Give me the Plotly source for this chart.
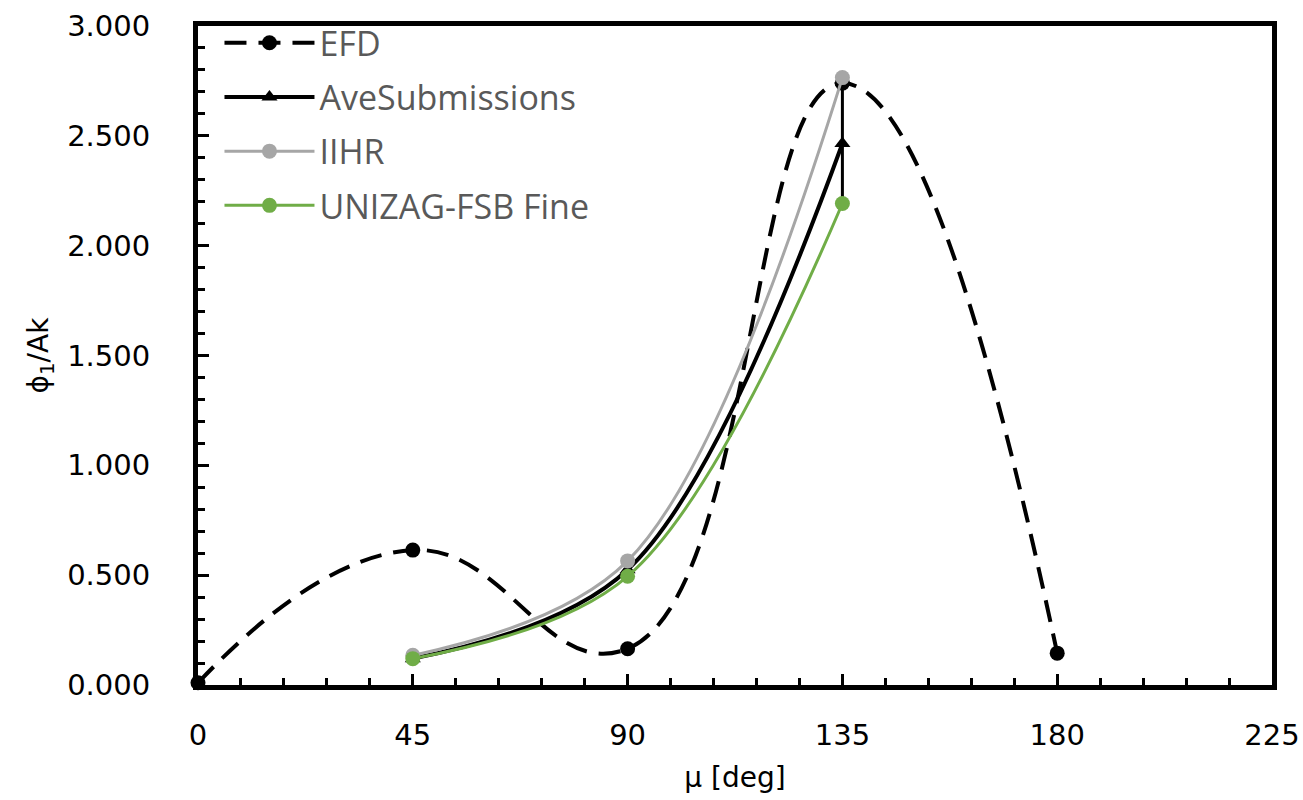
import plotly.graph_objects as go

# ---- data ----
mu_efd = [0, 45, 90, 135, 180]
efd = [0.010, 0.614, 0.165, 2.740, 0.145]

mu_cfd = [45, 90, 135]
ave = [0.120, 0.525, 2.465]
ave_err_plus = [0.0, 0.0, 0.300]
ave_err_minus = [0.0, 0.0, 0.275]
iihr = [0.135, 0.565, 2.765]
unizag = [0.120, 0.495, 2.192]

x_ticks = [0, 45, 90, 135, 180, 225]
y_ticks = [0, 0.5, 1.0, 1.5, 2.0, 2.5, 3.0]

fig = go.Figure()

fig.add_trace(go.Scatter(
    x=mu_efd, y=efd, name="EFD", mode="lines+markers",
    line=dict(color="black", width=4, dash="22px,12px", shape="spline", smoothing=1.3),
    marker=dict(symbol="circle", size=15, color="black"),
    cliponaxis=False, legendgroup="a"))
fig.add_trace(go.Scatter(
    x=mu_cfd, y=ave, name="AveSubmissions", mode="lines+markers",
    line=dict(color="black", width=4, shape="spline", smoothing=1),
    marker=dict(symbol="triangle-up", size=14, color="black"),
    error_y=dict(type="data", array=ave_err_plus, arrayminus=ave_err_minus,
                 symmetric=False, color="black", thickness=3, width=0),
    legendgroup="b"))
fig.add_trace(go.Scatter(
    x=mu_cfd, y=iihr, name="IIHR", mode="lines+markers",
    line=dict(color="#a6a6a6", width=3, shape="spline", smoothing=1),
    marker=dict(symbol="circle", size=15, color="#a6a6a6"),
    legendgroup="c"))
fig.add_trace(go.Scatter(
    x=mu_cfd, y=unizag, name="UNIZAG-FSB Fine", mode="lines+markers",
    line=dict(color="#70ad47", width=3, shape="spline", smoothing=1),
    marker=dict(symbol="circle", size=15, color="#70ad47"),
    legendgroup="d"))

fig.update_layout(
    width=1303, height=800,
    margin=dict(l=198, r=31, t=26, b=115),
    paper_bgcolor="white", plot_bgcolor="white",
    showlegend=True,
    legend=dict(x=0.02, y=1.018, xanchor="left", yanchor="top",
                bgcolor="rgba(0,0,0,0)", traceorder="grouped",
                tracegroupgap=7, itemwidth=90,
                font=dict(family="Open Sans", size=34, color="#595959")),
)

fig.update_xaxes(
    range=[0, 225], tickvals=x_ticks, ticktext=[str(v) for v in x_ticks],
    showgrid=False, zeroline=False, automargin=False,
    showline=True, linecolor="black", linewidth=5, mirror=True,
    ticks="inside", ticklen=11, tickwidth=3, tickcolor="black",
    minor=dict(dtick=9, ticks="inside", ticklen=7, tickwidth=3, tickcolor="black", showgrid=False),
    ticklabelstandoff=20,
    tickfont=dict(family="DejaVu Sans", size=29, color="black"),
    title=dict(text="μ [deg]", font=dict(family="DejaVu Sans", size=28, color="black"), standoff=18),
)
fig.update_yaxes(
    range=[0, 3.0], tickvals=y_ticks, ticktext=[f"{v:.3f}" for v in y_ticks],
    showgrid=False, zeroline=False, automargin=False,
    showline=True, linecolor="black", linewidth=5, mirror=True,
    ticks="inside", ticklen=11, tickwidth=3, tickcolor="black",
    minor=dict(dtick=0.1, ticks="inside", ticklen=7, tickwidth=3, tickcolor="black", showgrid=False),
    ticklabelstandoff=37,
    tickfont=dict(family="DejaVu Sans", size=29, color="black"),
    title=dict(text="ϕ<sub>1</sub>/Ak", font=dict(family="DejaVu Sans", size=28, color="black"), standoff=12),
)

fig.write_html("out.html")
